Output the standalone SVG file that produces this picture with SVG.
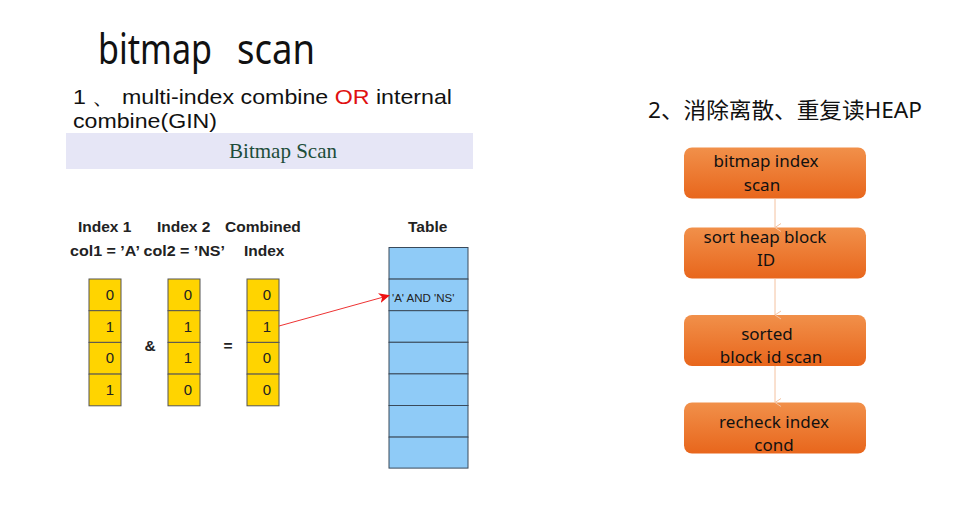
<svg xmlns="http://www.w3.org/2000/svg" width="965" height="508" viewBox="0 0 965 508">
<defs>
<style>
.ui{font-family:"Noto Sans","Noto Sans CJK SC",sans-serif;fill:#111}
.h1{font-family:"Liberation Sans",Arial,sans-serif;font-size:21px;fill:#111}
.lb{font-family:"Liberation Sans",Arial,sans-serif;font-weight:bold;font-size:15.5px;fill:#222}
.num{font-family:"Liberation Sans",Arial,sans-serif;font-size:15px;fill:#222;text-anchor:middle}
.cell{fill:#FFD400;stroke:#555;stroke-width:1}
.tb{fill:#8FCBF7;stroke:#3a4a5a;stroke-width:1}
.bx{fill:url(#og);stroke:none}
.bt{font-family:"Noto Sans","Open Sans",sans-serif;font-size:17px;fill:#111;text-anchor:middle}
.cn{stroke:#F4C2A0;stroke-width:1;fill:none}
</style>
<linearGradient id="og" x1="0" y1="0" x2="0" y2="1">
<stop offset="0" stop-color="#F1904A"/>
<stop offset="1" stop-color="#E8661C"/>
</linearGradient>
<marker id="ah" markerWidth="11" markerHeight="10" refX="10" refY="5" orient="auto" markerUnits="userSpaceOnUse">
<path d="M0,0 L11,5 L0,10 L3,5 Z" fill="#EE1111"/>
</marker>
<marker id="pa" markerWidth="10" markerHeight="8" refX="5" refY="7" orient="auto-start-reverse" markerUnits="userSpaceOnUse" viewBox="0 0 10 8">
<path d="M1,1 L5,7 L9,1" fill="none" stroke="#F4C2A0" stroke-width="1"/>
</marker>
</defs>
<rect width="965" height="508" fill="#fff"/>

<g id="title">
<text x="98" y="64" class="ui" font-size="42" textLength="114" lengthAdjust="spacingAndGlyphs">bitmap</text>
<text x="237" y="64" class="ui" font-size="42" textLength="78" lengthAdjust="spacingAndGlyphs">scan</text>
</g>
<g id="heading1">
<text x="73" y="104" class="h1" textLength="379" lengthAdjust="spacingAndGlyphs">1 、 multi-index combine <tspan fill="#E01010">OR</tspan> internal</text>
<text x="73" y="128" class="h1" textLength="144" lengthAdjust="spacingAndGlyphs">combine(GIN)</text>
</g>
<g id="banner">
<rect x="66" y="133" width="407" height="36" fill="#E6E6F6"/>
<text x="283" y="158" font-family="'Liberation Serif','Times New Roman',serif" font-size="21" fill="#1D4D3A" text-anchor="middle">Bitmap Scan</text>
</g>

<g id="labels">
<text x="78" y="232" class="lb">Index 1</text>
<text x="157" y="232" class="lb">Index 2</text>
<text x="225" y="232" class="lb">Combined</text>
<text x="70" y="256" class="lb" textLength="155" lengthAdjust="spacingAndGlyphs">col1 = ’A’ col2 = ’NS’</text>
<text x="244" y="256" class="lb">Index</text>
<text x="408" y="232" class="lb">Table</text>
<text x="150" y="351" class="lb" text-anchor="middle">&amp;</text>
<text x="228" y="351" class="lb" text-anchor="middle">=</text>
</g>

<g id="index1">
<rect x="89" y="279" width="32" height="31.7" class="cell"/>
<rect x="89" y="310.7" width="32" height="31.7" class="cell"/>
<rect x="89" y="342.4" width="32" height="31.7" class="cell"/>
<rect x="89" y="374.1" width="32" height="31.7" class="cell"/>
<text x="110" y="300" class="num">0</text>
<text x="110" y="332" class="num">1</text>
<text x="110" y="363" class="num">0</text>
<text x="110" y="395" class="num">1</text>
</g>
<g id="index2">
<rect x="168" y="279" width="32" height="31.7" class="cell"/>
<rect x="168" y="310.7" width="32" height="31.7" class="cell"/>
<rect x="168" y="342.4" width="32" height="31.7" class="cell"/>
<rect x="168" y="374.1" width="32" height="31.7" class="cell"/>
<text x="188" y="300" class="num">0</text>
<text x="188" y="332" class="num">1</text>
<text x="188" y="363" class="num">1</text>
<text x="188" y="395" class="num">0</text>
</g>
<g id="combined">
<rect x="247" y="279" width="32" height="31.7" class="cell"/>
<rect x="247" y="310.7" width="32" height="31.7" class="cell"/>
<rect x="247" y="342.4" width="32" height="31.7" class="cell"/>
<rect x="247" y="374.1" width="32" height="31.7" class="cell"/>
<text x="267" y="300" class="num">0</text>
<text x="267" y="332" class="num">1</text>
<text x="267" y="363" class="num">0</text>
<text x="267" y="395" class="num">0</text>
</g>
<g id="table">
<rect x="389" y="247.5" width="79" height="31.6" class="tb"/>
<rect x="389" y="279.1" width="79" height="31.6" class="tb"/>
<rect x="389" y="310.7" width="79" height="31.6" class="tb"/>
<rect x="389" y="342.3" width="79" height="31.6" class="tb"/>
<rect x="389" y="373.9" width="79" height="31.6" class="tb"/>
<rect x="389" y="405.5" width="79" height="31.6" class="tb"/>
<rect x="389" y="437.1" width="79" height="31.0" class="tb"/>
<text x="392" y="302" font-family="'Liberation Sans',Arial,sans-serif" font-size="11.5" fill="#222">'A' AND 'NS'</text>
</g>

<g id="step1">
<rect x="684" y="147.5" width="182" height="51" rx="8" class="bx"/>
<text x="766" y="167" class="bt">bitmap index</text>
<text x="762" y="191" class="bt">scan</text>
</g>
<g id="step2">
<rect x="684" y="227.5" width="182" height="51" rx="8" class="bx"/>
<text x="765" y="243" class="bt">sort heap block</text>
<text x="766" y="266" class="bt">ID</text>
</g>
<g id="step3">
<rect x="684" y="315" width="182" height="51" rx="8" class="bx"/>
<text x="767" y="340" class="bt">sorted</text>
<text x="771" y="363" class="bt">block id scan</text>
</g>
<g id="step4">
<rect x="684" y="402.5" width="182" height="51" rx="8" class="bx"/>
<text x="774" y="428" class="bt">recheck index</text>
<text x="774" y="451" class="bt">cond</text>
</g>
<g id="heading2">
<text x="648" y="118" class="ui" font-size="22" textLength="274" lengthAdjust="spacingAndGlyphs">2、消除离散、重复读HEAP</text>
</g>

<g id="connectors">
<line x1="279" y1="326" x2="389" y2="295.5" stroke="#EE3333" stroke-width="1" marker-end="url(#ah)"/>
<line x1="775" y1="198.5" x2="775" y2="227.5" class="cn" marker-end="url(#pa)"/>
<line x1="775" y1="278.5" x2="775" y2="315" class="cn" marker-end="url(#pa)"/>
<line x1="775" y1="366" x2="775" y2="402.5" class="cn" marker-end="url(#pa)"/>
</g>
</svg>
